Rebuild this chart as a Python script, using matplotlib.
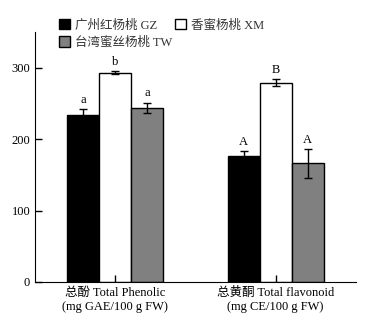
import matplotlib
matplotlib.use("Agg")
import matplotlib.pyplot as plt
import numpy as np

plt.rcParams['font.family'] = ['Liberation Serif', 'Noto Sans CJK SC']
plt.rcParams['font.size'] = 9

# Data
groups = ["总酚 Total Phenolic\n(mg GAE/100 g FW)", "总黄酮 Total flavonoid\n(mg CE/100 g FW)"]
series = ["广州红杨桃 GZ", "香蜜杨桃 XM", "台湾蜜丝杨桃 TW"]
gz = [234, 176]
xm = [293, 279]
tw = [244, 166]
gz_err = [8, 7]
xm_err = [2, 5]
tw_err = [7, 20]
gz_sig = ["a", "A"]
xm_sig = ["b", "B"]
tw_sig = ["a", "A"]

colors = ["black", "white", "#808080"]

fig = plt.figure(figsize=(3.77, 3.26), dpi=100)
ax = fig.add_axes([0.093, 0.135, 0.851, 0.767])

x = np.array([1, 2])
w = 0.2
bars = []
for i, (vals, errs, sigs) in enumerate([(gz, gz_err, gz_sig), (xm, xm_err, xm_sig), (tw, tw_err, tw_sig)]):
    pos = x + (i - 1) * w
    b = ax.bar(pos, vals, w, color=colors[i], edgecolor="black", linewidth=1,
               yerr=errs, capsize=3, error_kw=dict(elinewidth=1, capthick=1, ecolor="black"),
               label=series[i])
    bars.append(b)
    for p, v, e, s in zip(pos, vals, errs, sigs):
        ax.text(p, v + e + 5, s, ha="center", va="bottom", fontsize=9)

ax.set_xlim(0.5, 2.5)
ax.set_ylim(0, 350)
ax.set_xticks(x)
ax.set_xticklabels(groups, fontsize=9)
ax.set_yticks([0, 100, 200, 300])
ax.tick_params(direction="in", length=5, width=1)
ax.spines["top"].set_visible(False)
ax.spines["right"].set_visible(False)

leg = fig.legend([bars[0], bars[2], bars[1]], [series[0], series[2], series[1]],
                 ncol=2, loc="upper left", bbox_to_anchor=(0.157, 0.942),
                 frameon=False, fontsize=9, handlelength=0.9, handleheight=0.9,
                 handletextpad=0.4, columnspacing=0.2, labelspacing=0.4,
                 borderpad=0, borderaxespad=0)
for t in leg.get_texts():
    t.set_color("#333333")

fig.savefig("out.png", dpi=100)
